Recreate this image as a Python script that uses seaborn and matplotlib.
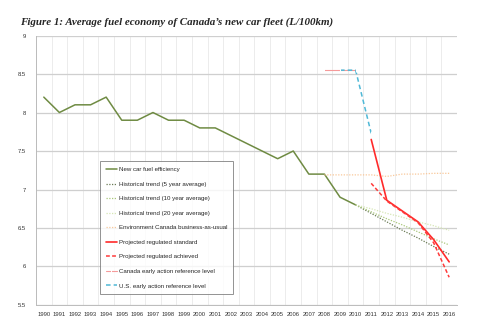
import matplotlib
matplotlib.use("Agg")
import matplotlib.pyplot as plt
import seaborn as sns
import numpy as np
from matplotlib.ticker import FixedLocator, FuncFormatter

# ---- data ----
years_hist = [1990, 1991, 1992, 1993, 1994, 1995, 1996, 1997, 1998, 1999, 2000,
              2001, 2002, 2003, 2004, 2005, 2006, 2007, 2008, 2009, 2010]
new_car = [8.2, 8.0, 8.1, 8.1, 8.2, 7.9, 7.9, 8.0, 7.9, 7.9, 7.8,
           7.8, 7.7, 7.6, 7.5, 7.4, 7.5, 7.2, 7.2, 6.9, 6.8]

years_trend = [2010, 2011, 2012, 2013, 2014, 2015, 2016]
trend5 = [6.8, 6.69, 6.58, 6.47, 6.37, 6.26, 6.16]
trend10 = [6.8, 6.71, 6.62, 6.54, 6.45, 6.36, 6.28]
trend20 = [6.8, 6.75, 6.69, 6.64, 6.58, 6.53, 6.47]

years_bau = [2008, 2009, 2010, 2011, 2012, 2013, 2014, 2015, 2016]
bau = [7.19, 7.19, 7.19, 7.19, 7.17, 7.2, 7.2, 7.21, 7.21]

years_reg = [2011, 2012, 2013, 2014, 2015, 2016]
reg_standard = [7.65, 6.86, 6.72, 6.58, 6.35, 6.06]
reg_achieved = [7.08, 6.85, 6.71, 6.57, 6.31, 5.86]

years_canada = [2008, 2009, 2010]
canada_early = [8.55, 8.55, 8.55]
years_us = [2009, 2010, 2011]
us_early = [8.55, 8.55, 7.73]

all_years = list(range(1990, 2017))
y_ticks = [5.5, 6, 6.5, 7, 7.5, 8, 8.5, 9]

labels = ["New car fuel efficiency",
          "Historical trend (5 year average)",
          "Historical trend (10 year average)",
          "Historical trend (20 year average)",
          "Environment Canada business-as-usual",
          "Projected regulated standard",
          "Projected regulated achieved",
          "Canada early action reference level",
          "U.S. early action reference level"]
title = "Figure 1: Average fuel economy of Canada\u2019s new car fleet (L/100km)"

# ---- plot ----
sns.set_style("white")
plt.rcParams['font.family'] = ['Liberation Sans', 'DejaVu Sans']

fig = plt.figure(figsize=(4.8, 3.29), dpi=100)
ax = fig.add_axes([0.075, 0.073, 0.877, 0.819])

series = [
    (years_hist, new_car, dict(color="#6f8b43", lw=1.1, ls="-")),
    (years_trend, trend5, dict(color="#6a7a55", lw=0.9, ls=(0, (1, 1.2)))),
    (years_trend, trend10, dict(color="#a9c77a", lw=0.9, ls=(0, (1, 1.2)))),
    (years_trend, trend20, dict(color="#d6e6b5", lw=0.9, ls=(0, (1, 1.2)))),
    (years_bau, bau, dict(color="#f9c89a", lw=0.9, ls=(0, (1, 1.2)))),
    (years_reg, reg_standard, dict(color="#ff2a2a", lw=1.2, ls="-")),
    (years_reg, reg_achieved, dict(color="#ff3a3a", lw=1.1, ls=(0, (2.5, 1.5)))),
    (years_canada, canada_early, dict(color="#f59a9a", lw=0.8, ls="-",
                                      marker="|", markersize=2.5)),
    (years_us, us_early, dict(color="#4fb8d6", lw=1.1, ls=(0, (3, 2)),
                              marker="|", markersize=2.5)),
]
for (xs, ys, kw), lab in zip(series, labels):
    sns.lineplot(x=xs, y=ys, ax=ax, label=lab, **kw)

ax.set_xlim(1989.5, 2016.5)
ax.set_ylim(5.5, 9)
ax.xaxis.set_major_locator(FixedLocator(all_years))
ax.xaxis.set_minor_locator(FixedLocator([y + 0.5 for y in range(1989, 2017)]))
ax.set_xticklabels([str(y) for y in all_years])
ax.yaxis.set_major_locator(FixedLocator(y_ticks))
ax.yaxis.set_major_formatter(FuncFormatter(lambda v, p: f"{v:g}"))

ax.grid(False)
ax.grid(which="minor", axis="x", color="#ececec", lw=0.7)
ax.grid(which="major", axis="y", color="#cfcfcf", lw=0.9)
ax.set_axisbelow(True)

ax.tick_params(axis="x", which="major", length=0, labelsize=4.2, pad=5, colors="#333333")
ax.tick_params(axis="x", which="minor", length=2, color="#bbbbbb", width=0.6)
ax.tick_params(axis="y", which="major", length=2, labelsize=4.2, pad=5, colors="#333333")
ax.tick_params(axis="y", color="#bbbbbb", width=0.6)

for s in ["top", "right"]:
    ax.spines[s].set_visible(False)
for s in ["left", "bottom"]:
    ax.spines[s].set_color("#bbbbbb")
    ax.spines[s].set_linewidth(0.7)

leg = ax.legend(loc="upper left", bbox_to_anchor=(100 / 480, 1 - 161 / 329),
                bbox_transform=fig.transFigure, fontsize=4.4, frameon=True,
                fancybox=False, edgecolor="#777777", handlelength=1.8,
                handletextpad=0.3, labelspacing=1.52, borderpad=0.95,
                borderaxespad=0)
leg.get_frame().set_linewidth(0.7)

fig.text(20 / 480, 1 - 22 / 329, title, fontsize=7.9, fontweight="bold",
         fontstyle="italic", family=["Liberation Serif", "DejaVu Serif"],
         va="center", ha="left")

fig.savefig("out.png", dpi=100)
